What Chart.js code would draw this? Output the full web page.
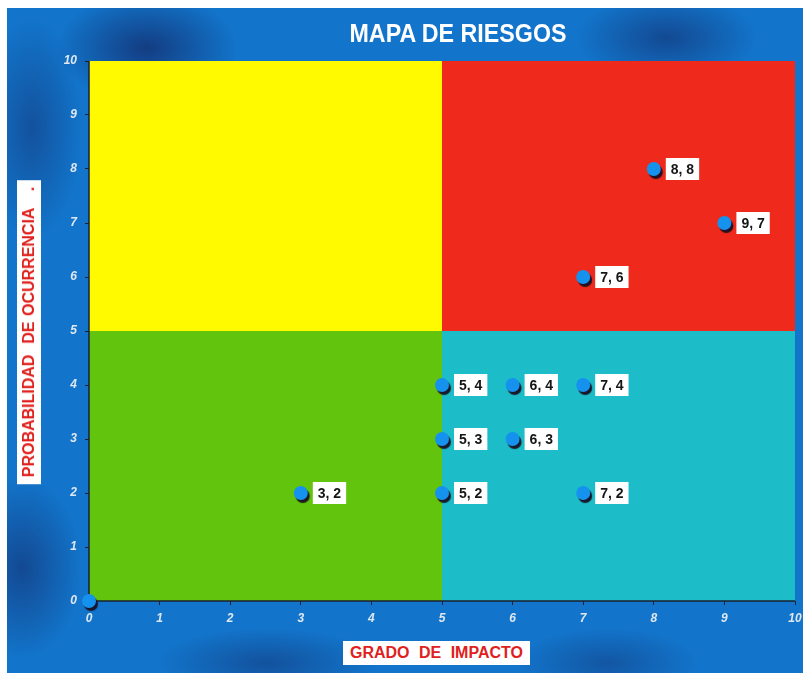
<!DOCTYPE html>
<html>
<head>
<meta charset="utf-8">
<script src="https://cdn.jsdelivr.net/npm/chart.js@4"></script>
<style>
  html, body { margin: 0; padding: 0; }
  body { width: 803px; height: 673px; overflow: hidden; background: #fff; }
  #wrap {
    position: absolute; left: 7px; top: 8px; width: 796px; height: 665px;
    background:
      radial-gradient(ellipse 90px 55px at 140px 40px, rgba(20,30,90,0.65), rgba(20,30,90,0) 100%),
      radial-gradient(ellipse 90px 45px at 660px 30px, rgba(20,30,90,0.5), rgba(20,30,90,0) 100%),
      radial-gradient(ellipse 50px 110px at 25px 120px, rgba(20,30,90,0.4), rgba(20,30,90,0) 100%),
      radial-gradient(ellipse 60px 90px at 15px 560px, rgba(20,30,90,0.5), rgba(20,30,90,0) 100%),
      radial-gradient(ellipse 110px 35px at 260px 655px, rgba(20,30,90,0.4), rgba(20,30,90,0) 100%),
      radial-gradient(ellipse 90px 35px at 600px 655px, rgba(20,30,90,0.35), rgba(20,30,90,0) 100%),
      #1274ca;
  }
  canvas { position: absolute; left: 0; top: 0; }
  #titulo {
    position: absolute; left: 458px; top: 19px; transform: translateX(-50%) scaleX(0.93);
    color: #fff; font: bold 25px "Liberation Sans", Arial, sans-serif; white-space: nowrap;
  }
  .axt {
    position: absolute; background: #fff; color: #e0201c;
    font: bold 16px "Liberation Sans", Arial, sans-serif;
    padding: 2px 7px; white-space: nowrap; line-height: 20px;
  }
  #xt { left: 343px; top: 641px; word-spacing: 5px; }
  #yt { left: 29px; top: 332px; transform: translate(-50%, -50%) rotate(-90deg); word-spacing: 1px; }
</style>
</head>
<body>
<div id="wrap"></div>
<canvas id="c" width="803" height="673"></canvas>
<div id="titulo">MAPA DE RIESGOS</div>
<div class="axt" id="xt">GRADO DE IMPACTO</div>
<div class="axt" id="yt">PROBABILIDAD&nbsp; DE OCURRENCIA&nbsp;&nbsp; .</div>
<script>
// riesgos: grado de impacto (x) / probabilidad (y)
const impacto = [0, 3, 5, 5, 5, 6, 6, 7, 7, 7, 8, 9];
const probabilidad = [0, 2, 2, 3, 4, 3, 4, 2, 4, 6, 8, 7];
const etiquetas = ['', '3, 2', '5, 2', '5, 3', '5, 4', '6, 3', '6, 4', '7, 2', '7, 4', '7, 6', '8, 8', '9, 7'];
const ticks = [0, 1, 2, 3, 4, 5, 6, 7, 8, 9, 10];
// zonas: [xmin, xmax, ymin, ymax]
const zonas = [[0, 5, 5, 10], [5, 10, 5, 10], [0, 5, 0, 5], [5, 10, 0, 5]];
const zonaColores = ['#fffa00', '#ef2a1c', '#62c40c', '#1cbdc8'];

const fondoZonas = {
  id: 'fondoZonas',
  beforeDatasetsDraw(chart) {
    const ctx = chart.ctx, x = chart.scales.x, y = chart.scales.y;
    zonas.forEach((z, i) => {
      const x0 = x.getPixelForValue(z[0]), x1 = x.getPixelForValue(z[1]);
      const y0 = y.getPixelForValue(z[3]), y1 = y.getPixelForValue(z[2]);
      ctx.fillStyle = zonaColores[i];
      ctx.fillRect(x0, y0, x1 - x0, y1 - y0);
    });
    // bordes de ejes
    ctx.strokeStyle = '#1a2030';
    ctx.lineWidth = 1.5;
    ctx.beginPath();
    ctx.moveTo(x.left, y.top);
    ctx.lineTo(x.left, y.bottom);
    ctx.lineTo(x.right, y.bottom);
    ctx.stroke();
  },
  beforeDatasetDraw(chart) {
    const ctx = chart.ctx;
    ctx.save();
    ctx.shadowColor = 'rgba(25,15,35,0.95)';
    ctx.shadowOffsetX = 2;
    ctx.shadowOffsetY = 3;
    ctx.shadowBlur = 1;
  },
  afterDatasetDraw(chart) {
    chart.ctx.restore();
  },
  afterDatasetsDraw(chart) {
    const ctx = chart.ctx;
    const meta = chart.getDatasetMeta(0);
    ctx.font = 'bold 14px "Liberation Sans", Arial, sans-serif';
    ctx.textBaseline = 'middle';
    meta.data.forEach((p, i) => {
      const t = etiquetas[i];
      if (!t) return;
      const w = ctx.measureText(t).width + 10;
      ctx.fillStyle = '#ffffff';
      ctx.fillRect(p.x + 12, p.y - 11, w, 22);
      ctx.fillStyle = '#151515';
      ctx.fillText(t, p.x + 17, p.y + 1);
    });
  }
};

new Chart(document.getElementById('c'), {
  type: 'scatter',
  data: {
    datasets: [{
      data: impacto.map((v, i) => ({ x: v, y: probabilidad[i] })),
      backgroundColor: '#1592ee',
      borderWidth: 0,
      pointRadius: 7,
      pointHoverRadius: 7,
      clip: false
    }]
  },
  options: {
    responsive: false,
    animation: false,
    layout: { padding: { left: 44, right: 0, top: 61, bottom: 0 } },
    plugins: {
      legend: { display: false },
      tooltip: { enabled: false },
      title: { display: false }
    },
    scales: {
      x: {
        type: 'linear', min: 0, max: 10,
        afterFit(s) { s.height = 72; s.paddingRight = 8; },
        afterBuildTicks(s) { s.ticks = ticks.map(v => ({ value: v })); },
        grid: { drawOnChartArea: false, drawTicks: true, tickLength: 4, color: '#1a2030' },
        border: { display: false },
        ticks: {
          color: '#dfe8f2', padding: 6,
          font: { family: '"Liberation Sans", Arial, sans-serif', size: 12, weight: 'bold', style: 'italic' }
        }
      },
      y: {
        type: 'linear', min: 0, max: 10,
        afterFit(s) { s.width = 45; },
        afterBuildTicks(s) { s.ticks = ticks.map(v => ({ value: v })); },
        grid: { drawOnChartArea: false, drawTicks: true, tickLength: 4, color: '#1a2030' },
        border: { display: false },
        ticks: {
          color: '#dfe8f2', padding: 8,
          font: { family: '"Liberation Sans", Arial, sans-serif', size: 12, weight: 'bold', style: 'italic' }
        }
      }
    }
  },
  plugins: [fondoZonas]
});
</script>
</body>
</html>
